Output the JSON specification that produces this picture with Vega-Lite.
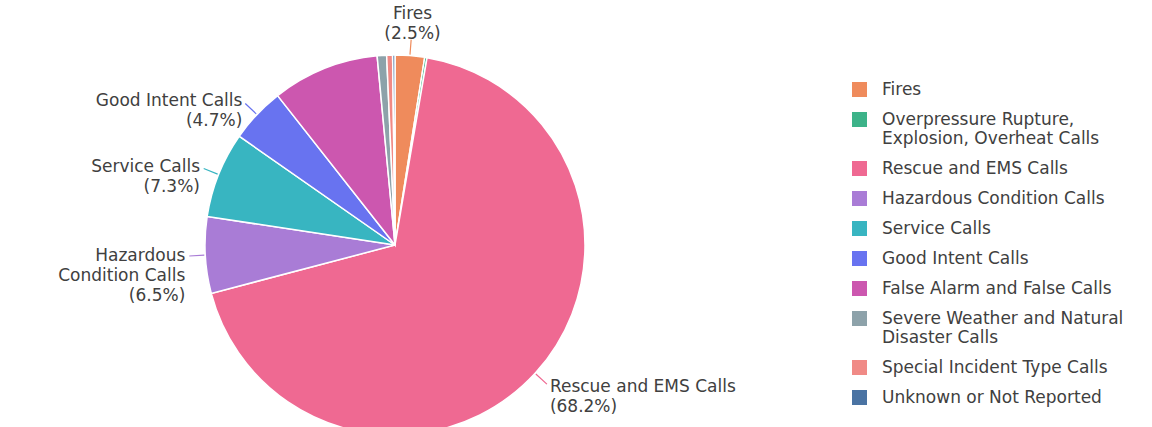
{
  "$schema": "https://vega.github.io/schema/vega-lite/v6.json",
  "autosize": {"type": "none"},
  "width": 790,
  "height": 364,
  "padding": {"left": 0, "top": 63, "right": 362, "bottom": 0},
  "background": "white",
  "config": {"view": {"stroke": null}},
  "data": {
    "values": [
      {"category": "Fires", "value": 2.5, "order": 1, "label": "Fires\n(2.5%)"},
      {"category": "Overpressure Rupture, Explosion, Overheat Calls", "value": 0.2, "order": 2, "label": ""},
      {"category": "Rescue and EMS Calls", "value": 68.2, "order": 3, "label": "Rescue and EMS Calls\n(68.2%)"},
      {"category": "Hazardous Condition Calls", "value": 6.5, "order": 4, "label": "Hazardous\nCondition Calls\n(6.5%)"},
      {"category": "Service Calls", "value": 7.3, "order": 5, "label": "Service Calls\n(7.3%)"},
      {"category": "Good Intent Calls", "value": 4.7, "order": 6, "label": "Good Intent Calls\n(4.7%)"},
      {"category": "False Alarm and False Calls", "value": 9.1, "order": 7, "label": ""},
      {"category": "Severe Weather and Natural Disaster Calls", "value": 0.8, "order": 8, "label": ""},
      {"category": "Special Incident Type Calls", "value": 0.5, "order": 9, "label": ""},
      {"category": "Unknown or Not Reported", "value": 0.2, "order": 10, "label": ""}
    ]
  },
  "encoding": {
    "theta": {"field": "value", "type": "quantitative", "stack": true},
    "order": {"field": "order", "type": "quantitative"}
  },
  "layer": [
    {
      "mark": {"type": "arc", "outerRadius": 190, "stroke": "white", "strokeWidth": 1.5},
      "encoding": {
        "color": {
          "field": "category",
          "type": "nominal",
          "scale": {
            "domain": ["Fires", "Overpressure Rupture, Explosion, Overheat Calls", "Rescue and EMS Calls", "Hazardous Condition Calls", "Service Calls", "Good Intent Calls", "False Alarm and False Calls", "Severe Weather and Natural Disaster Calls", "Special Incident Type Calls", "Unknown or Not Reported"],
            "range": ["#EF8B5C", "#3DB389", "#EF6992", "#A97CD6", "#38B5C1", "#6873F0", "#CC57AF", "#8DA2AA", "#F08A86", "#4A73A3"]
          },
          "legend": {
            "orient": "none",
            "legendX": 851,
            "legendY": 18,
            "title": null,
            "symbolType": "square",
            "symbolSize": 225,
            "symbolStrokeWidth": 0,
            "labelFont": "DejaVu Sans",
            "labelFontSize": 17,
            "labelColor": "#404040",
            "labelOffset": 14,
            "rowPadding": 12,
            "labelLimit": 400,
            "labelExpr": "datum.label === 'Overpressure Rupture, Explosion, Overheat Calls' ? ['Overpressure Rupture,', 'Explosion, Overheat Calls'] : datum.label === 'Severe Weather and Natural Disaster Calls' ? ['Severe Weather and Natural', 'Disaster Calls'] : datum.label"
          }
        }
      }
    },
    {
      "mark": {"type": "arc", "outerRadius": 206, "innerRadius": 191, "padAngle": 3, "fillOpacity": 0, "strokeWidth": 1.2},
      "encoding": {
        "stroke": {
          "field": "category",
          "type": "nominal",
          "scale": {
            "domain": ["Fires", "Overpressure Rupture, Explosion, Overheat Calls", "Rescue and EMS Calls", "Hazardous Condition Calls", "Service Calls", "Good Intent Calls", "False Alarm and False Calls", "Severe Weather and Natural Disaster Calls", "Special Incident Type Calls", "Unknown or Not Reported"],
            "range": ["#EF8B5C", "#3DB389", "#EF6992", "#A97CD6", "#38B5C1", "#6873F0", "#CC57AF", "#8DA2AA", "#F08A86", "#4A73A3"]
          },
          "legend": null
        },
        "strokeOpacity": {
          "condition": {"test": "indexof(['Fires', 'Hazardous Condition Calls', 'Service Calls', 'Good Intent Calls'], datum.category) >= 0", "value": 1},
          "value": 0
        }
      }
    },
    {
      "mark": {"type": "arc", "outerRadius": 206, "innerRadius": 191, "padAngle": 3, "fillOpacity": 0, "strokeWidth": 1.2},
      "encoding": {
        "theta": {"field": "value", "type": "quantitative", "stack": true, "scale": {"range": [0.694, 5.092]}},
        "stroke": {
          "field": "category",
          "type": "nominal",
          "scale": {
            "domain": ["Fires", "Overpressure Rupture, Explosion, Overheat Calls", "Rescue and EMS Calls", "Hazardous Condition Calls", "Service Calls", "Good Intent Calls", "False Alarm and False Calls", "Severe Weather and Natural Disaster Calls", "Special Incident Type Calls", "Unknown or Not Reported"],
            "range": ["#EF8B5C", "#3DB389", "#EF6992", "#A97CD6", "#38B5C1", "#6873F0", "#CC57AF", "#8DA2AA", "#F08A86", "#4A73A3"]
          },
          "legend": null
        },
        "strokeOpacity": {
          "condition": {"test": "datum.category === 'Rescue and EMS Calls'", "value": 1},
          "value": 0
        }
      }
    },
    {
      "mark": {"type": "text", "radius": 223, "align": "center", "baseline": "bottom", "lineBreak": "\n", "font": "DejaVu Sans", "fontSize": 17, "lineHeight": 20, "fill": "#404040"},
      "encoding": {
        "text": {"condition": {"test": "datum.category === 'Fires'", "field": "label", "type": "nominal"}, "value": ""}
      }
    },
    {
      "mark": {"type": "text", "radius": 210, "align": "right", "baseline": "middle", "lineBreak": "\n", "font": "DejaVu Sans", "fontSize": 17, "lineHeight": 20, "fill": "#404040"},
      "encoding": {
        "text": {"condition": {"test": "indexof(['Hazardous Condition Calls', 'Service Calls', 'Good Intent Calls'], datum.category) >= 0", "field": "label", "type": "nominal"}, "value": ""}
      }
    },
    {
      "mark": {"type": "text", "radius": 210, "align": "left", "baseline": "middle", "lineBreak": "\n", "font": "DejaVu Sans", "fontSize": 17, "lineHeight": 20, "fill": "#404040"},
      "encoding": {
        "text": {"condition": {"test": "datum.category === 'Rescue and EMS Calls'", "field": "label", "type": "nominal"}, "value": ""}
      }
    }
  ],
  "resolve": {"scale": {"theta": "independent"}}
}
